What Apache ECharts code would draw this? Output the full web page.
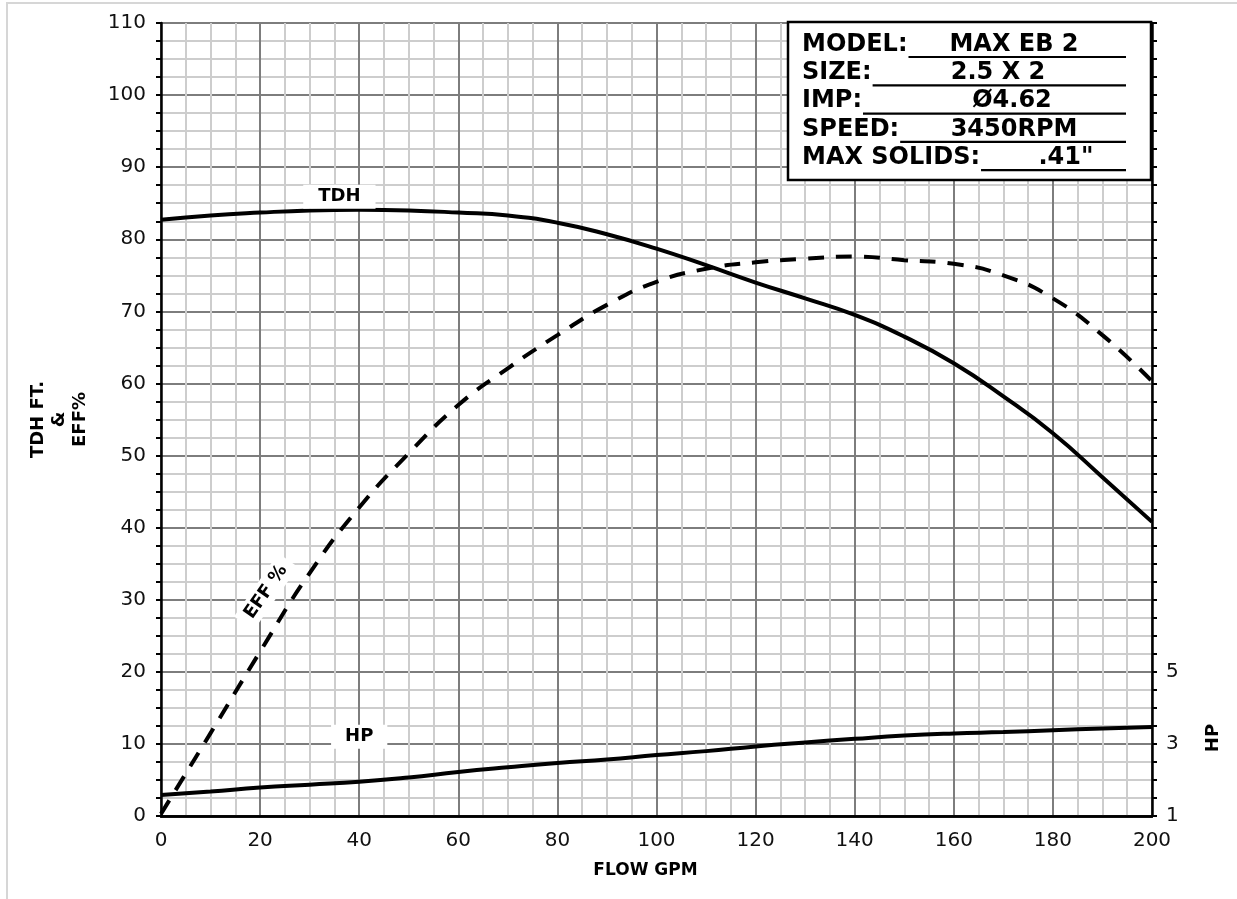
<!DOCTYPE html>
<html>
<head>
<meta charset="utf-8">
<script src="https://cdn.jsdelivr.net/npm/echarts@6/dist/echarts.min.js"></script>
<style>
html,body{margin:0;padding:0;background:#fff;}
#chart{width:1237px;height:899px;}
</style>
</head>
<body>
<div id="chart"></div>
<script>
// ---------- data ----------
const flowGpm = [0,10,20,30,40,50,60,70,80,90,100,110,120,130,140,150,160,170,180,190,200];
const tdhFt   = [82.7,83.3,83.7,84.0,84.1,84.0,83.7,83.3,82.3,80.7,78.7,76.4,74.0,71.8,69.5,66.5,62.8,58.2,53.1,47.0,40.8];
const effPct  = [0.3,11.5,22.8,33.7,42.8,50.3,57.0,62.1,66.7,70.9,74.1,75.9,76.8,77.3,77.6,77.1,76.6,75.0,71.8,66.7,60.3];
const hpVal   = [1.58,1.68,1.79,1.87,1.95,2.07,2.22,2.35,2.47,2.57,2.69,2.80,2.93,3.04,3.14,3.23,3.29,3.33,3.38,3.43,3.47];

const xTickLabels  = [0,20,40,60,80,100,120,140,160,180,200];
const yTickLabels  = [0,10,20,30,40,50,60,70,80,90,100,110];
const hpTickLabels = [1,3,5];

const infoLabels = ['MODEL:','SIZE:','IMP:','SPEED:','MAX SOLIDS:'];
const infoValues = ['MAX EB 2','2.5 X 2','Ø4.62','3450RPM','.41"'];

// curve label anchors (data coordinates)
const tdhLabelAt = [36, 85.9];
const effLabelAt = [21.2, 31.1];
const hpLabelAt  = [40, 3.2];

// ---------- build ----------
const zip = (xs, ys) => xs.map((x, i) => [x, ys[i]]);
const FONT = '"DejaVu Sans", "Liberation Sans", sans-serif';

const chart = echarts.init(document.getElementById('chart'));

function labelMark(coord, text, rotate, pad) {
  return {
    symbol: 'rect', symbolSize: 1,
    itemStyle: { color: 'rgba(0,0,0,0)' },
    silent: true,
    data: [{ coord: coord, value: text }],
    label: {
      show: true, position: 'inside', formatter: text, rotate: rotate || 0,
      color: '#000', fontSize: 18, fontWeight: 'bold', fontFamily: FONT,
      backgroundColor: '#fff', padding: pad
    }
  };
}

// measure text for info box underlines
const ctx = document.createElement('canvas').getContext('2d');
const infoFont = 'bold 24px ' + FONT;
ctx.font = infoFont;

const boxX = 788, boxY = 22, boxW = 363, boxH = 158;
const rowY0 = 44.5, rowStep = 28.3;
const valueCenters = [1014, 998, 1012, 1014, 1066];
const lineEnd = 1126;
const infoGraphics = [{
  type: 'rect', z: 100,
  shape: { x: boxX, y: boxY, width: boxW, height: boxH },
  style: { fill: '#fff', stroke: '#000', lineWidth: 2.5 }
}];
infoLabels.forEach((lab, i) => {
  const cy = rowY0 + i * rowStep;
  const w = ctx.measureText(lab).width;
  infoGraphics.push({
    type: 'text', z: 101,
    style: { text: lab, x: 802, y: cy, font: infoFont, fill: '#000', textAlign: 'left', textVerticalAlign: 'middle' }
  });
  infoGraphics.push({
    type: 'text', z: 101,
    style: { text: infoValues[i], x: valueCenters[i], y: cy, font: infoFont, fill: '#000', textAlign: 'center', textVerticalAlign: 'middle' }
  });
  infoGraphics.push({
    type: 'line', z: 101,
    shape: { x1: 802 + w + 1, y1: cy + 12.5, x2: lineEnd, y2: cy + 12.5 },
    style: { stroke: '#000', lineWidth: 2.2 }
  });
});

const option = {
  animation: false,
  backgroundColor: '#fff',
  grid: { left: 161, right: 85, top: 23, bottom: 83, containLabel: false },
  xAxis: [{
    type: 'value', min: 0, max: 200, interval: 20,
    axisLine: { show: true, onZero: false, lineStyle: { color: '#000', width: 2.5 } },
    axisTick: { show: false },
    axisLabel: {
      color: '#111', fontSize: 20, fontFamily: FONT, margin: 15,
      formatter: v => xTickLabels.includes(v) ? String(v) : ''
    },
    splitLine: { show: true, lineStyle: { color: '#7d7d7d', width: 2 } },
    minorTick: { show: false, splitNumber: 4 },
    minorSplitLine: { show: true, lineStyle: { color: '#cdcdcd', width: 2 } },
    name: 'FLOW GPM', nameLocation: 'middle', nameGap: 46,
    nameTextStyle: { color: '#000', fontSize: 17, fontWeight: 'bold', fontFamily: FONT, padding: [0, 22, 0, 0] }
  }, {
    type: 'value', min: 0, max: 200, position: 'top', z: 1,
    axisLine: { show: true, lineStyle: { color: '#000', width: 2.5 } },
    axisTick: { show: false }, axisLabel: { show: false }, splitLine: { show: false }
  }],
  yAxis: [{
    type: 'value', min: 0, max: 110, interval: 10,
    axisLine: { show: true, onZero: false, lineStyle: { color: '#000', width: 2.5 } },
    axisTick: { show: true, length: 5, lineStyle: { color: '#000', width: 2 } },
    minorTick: { show: true, splitNumber: 4, length: 5, lineStyle: { color: '#000', width: 2 } },
    axisLabel: {
      color: '#111', fontSize: 20, fontFamily: FONT, margin: 15,
      formatter: v => yTickLabels.includes(v) ? String(v) : ''
    },
    splitLine: { show: true, lineStyle: { color: '#7d7d7d', width: 2 } },
    minorSplitLine: { show: true, lineStyle: { color: '#cdcdcd', width: 2 } },
    name: 'TDH FT.\n&\nEFF%', nameLocation: 'middle', nameGap: 70, nameRotate: 90,
    nameTextStyle: { color: '#000', fontSize: 18, fontWeight: 'bold', fontFamily: FONT, lineHeight: 21, align: 'center' }
  }, {
    type: 'value', min: 1, max: 23, interval: 2, position: 'right', z: 1,
    axisLine: { show: true, onZero: false, lineStyle: { color: '#000', width: 2.5 } },
    axisTick: { show: true, length: 5, lineStyle: { color: '#000', width: 2 } },
    minorTick: { show: true, splitNumber: 4, length: 5, lineStyle: { color: '#000', width: 2 } },
    axisLabel: {
      color: '#111', fontSize: 20, fontFamily: FONT, margin: 14,
      formatter: v => hpTickLabels.includes(v) ? String(v) : ''
    },
    splitLine: { show: false }
  }],
  series: [{
    name: 'TDH', type: 'line', xAxisIndex: 0, yAxisIndex: 0,
    data: zip(flowGpm, tdhFt), smooth: 0.5,
    showSymbol: false, symbol: 'none',
    lineStyle: { color: '#000', width: 4 },
    markPoint: labelMark(tdhLabelAt, 'TDH', 0, [3, 15, 3, 15])
  }, {
    name: 'EFF', type: 'line', xAxisIndex: 0, yAxisIndex: 0,
    data: zip(flowGpm, effPct), smooth: 0.5,
    showSymbol: false, symbol: 'none',
    lineStyle: { color: '#000', width: 4, type: [16, 12], cap: 'butt' },
    markPoint: labelMark(effLabelAt, 'EFF %', 55, [3, 8, 3, 8])
  }, {
    name: 'HP', type: 'line', xAxisIndex: 0, yAxisIndex: 1,
    data: zip(flowGpm, hpVal), smooth: 0.5,
    showSymbol: false, symbol: 'none',
    lineStyle: { color: '#000', width: 4 },
    markPoint: labelMark(hpLabelAt, 'HP', 0, [3, 14, 3, 14])
  }],
  graphic: [
    { type: 'rect', z: -10, silent: true, shape: { x: 7, y: 3, width: 1250, height: 920 },
      style: { fill: 'none', stroke: '#d6d6d6', lineWidth: 2 } },
    { type: 'text', z: 50, x: 1213, y: 738, rotation: Math.PI / 2,
      style: { text: 'HP', font: 'bold 18px ' + FONT, fill: '#000', textAlign: 'center', textVerticalAlign: 'middle' } }
  ].concat(infoGraphics)
};
chart.setOption(option);
</script>
</body>
</html>
